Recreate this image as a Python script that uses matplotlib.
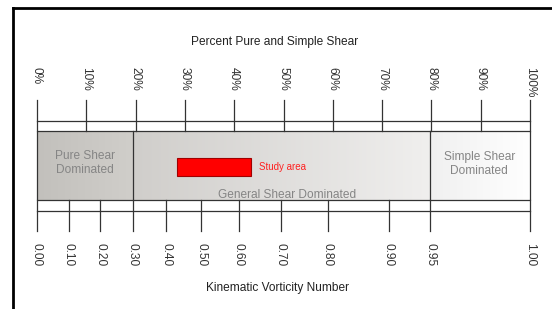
import numpy as np
import matplotlib
matplotlib.use("Agg")
import matplotlib.pyplot as plt
from matplotlib.colors import LinearSegmentedColormap
from matplotlib.patches import Rectangle

plt.rcParams['font.family'] = ['Liberation Sans', 'DejaVu Sans']

# ---- data ----
percent_ticks = [0, 10, 20, 30, 40, 50, 60, 70, 80, 90, 100]
percent_labels = ["0%", "10%", "20%", "30%", "40%", "50%", "60%", "70%", "80%", "90%", "100%"]
wk_labels = ["0.00", "0.10", "0.20", "0.30", "0.40", "0.50", "0.60", "0.70", "0.80", "0.90", "0.95", "1.00"]
wk_positions = [0, 6.4, 12.8, 19.4, 26.2, 33.3, 40.9, 49.4, 59.0, 71.3, 79.8, 100]  # percent scale
region_bounds = [0, 19.4, 79.8, 100]
region_labels = ["Pure Shear\nDominated", "General Shear Dominated", "Simple Shear\nDominated"]
study_area = (28.3, 43.5)

W, H = 552, 309
fig = plt.figure(figsize=(W / 100, H / 100), dpi=100)
fig.patch.set_facecolor("white")
x0, x1 = 37, 530
ax = fig.add_axes([x0 / W, 0, (x1 - x0) / W, 1])
ax.set_xlim(0, 100)
ax.set_ylim(H, 0)
ax.axis("off")

# outer frame (left and top only visible)
fig.add_artist(plt.Line2D([13 / W, 13 / W], [0, 1 - 8 / H], color="black", lw=2, transform=fig.transFigure))
fig.add_artist(plt.Line2D([13 / W, 1], [1 - 8 / H, 1 - 8 / H], color="black", lw=2, transform=fig.transFigure))

box_top, box_bot = 131, 200
line_col = "#333333"

# gradients
grads = [("#c2c0bc", "#d0ceca"), ("#d0cecb", "#f0efee"), ("#f0f0f0", "#ffffff")]
for i, (c0, c1) in enumerate(grads):
    cmap = LinearSegmentedColormap.from_list("g%d" % i, [c0, c1])
    ax.imshow(np.linspace(0, 1, 256)[None, :], cmap=cmap, aspect="auto",
              extent=[region_bounds[i], region_bounds[i + 1], box_bot, box_top], zorder=1)
ax.set_xlim(0, 100)
ax.set_ylim(H, 0)

ax.add_patch(Rectangle((0, box_top), 100, box_bot - box_top, fill=False, ec=line_col, lw=0.9,
                       zorder=3, clip_on=False))
for b in region_bounds[1:3]:
    ax.plot([b, b], [box_top, box_bot], color=line_col, lw=0.9, zorder=3)

fs = 8.6
# top scale
ax.plot([0, 100], [120.7, 120.7], color=line_col, lw=0.9, clip_on=False)
for p, lab in zip(percent_ticks, percent_labels):
    ax.plot([p, p], [100, box_top], color=line_col, lw=0.9, clip_on=False)
    ax.text(p, 67, lab, rotation=-90, ha="center", va="top", fontsize=fs, color="#333333")

# bottom scale
ax.plot([0, 100], [211, 211], color=line_col, lw=0.9, clip_on=False)
for p, lab in zip(wk_positions, wk_labels):
    ax.plot([p, p], [box_bot, 231], color=line_col, lw=0.9, clip_on=False)
    ax.text(p, 243, lab, rotation=-90, ha="center", va="top", fontsize=fs, color="#333333")

# region labels
gray = "#858585"
ax.text(9.7, 163, region_labels[0], ha="center", va="center", fontsize=fs, color=gray, linespacing=1.25, zorder=4)
ax.text(50.7, 194.5, region_labels[1], ha="center", va="center", fontsize=fs, color=gray, zorder=4)
ax.text(89.7, 164, region_labels[2], ha="center", va="center", fontsize=fs, color=gray, linespacing=1.25, zorder=4)

# study area
ax.add_patch(Rectangle((study_area[0], 157.5), study_area[1] - study_area[0], 18.5,
                       fc="#ff0000", ec="#a00000", lw=0.8, zorder=4))
ax.text(45.0, 166.5, "Study area", ha="left", va="center", fontsize=7, color="#ff2020", zorder=4)

# axis titles
ax.text(48.2, 42, "Percent Pure and Simple Shear", ha="center", va="center", fontsize=fs, color="#222222")
ax.text(48.7, 288, "Kinematic Vorticity Number", ha="center", va="center", fontsize=fs, color="#222222")

fig.savefig("out.png", dpi=100)
